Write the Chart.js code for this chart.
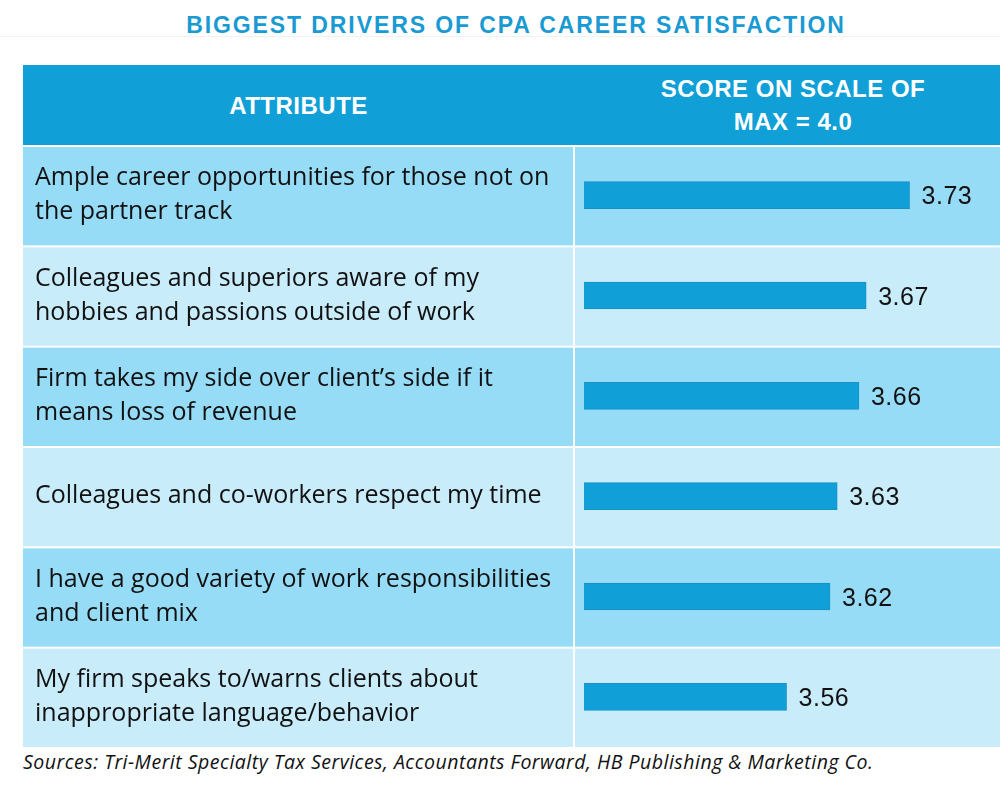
<!DOCTYPE html>
<html>
<head>
<meta charset="utf-8">
<script src="https://cdn.jsdelivr.net/npm/chart.js@4"></script>
<style>
  html, body { margin: 0; padding: 0; background: #fff; }
  body { width: 1000px; height: 792px; position: relative; overflow: hidden; }
  .title {
    position: absolute; top: 12px; left: 32px; width: 968px;
    text-align: center; color: #1a9ad2;
    font: bold 23px "Liberation Sans", Arial, sans-serif; letter-spacing: 1.9px;
  }
  .rule { position: absolute; top: 36px; left: 0; width: 1000px; height: 1px; background: #f2f2f2; }
  .header {
    position: absolute; top: 65px; left: 23px; width: 989px; height: 80px;
    background: #109fd6; color: #fff;
    font: bold 24px "Liberation Sans", Arial, sans-serif; letter-spacing: 0.5px;
  }
  .header div { position: absolute; top: 0; height: 80px; display: flex; align-items: center; justify-content: center; text-align: center; line-height: 33px; }
  .h1 { left: 0; width: 551px; }
  .h2 { left: 551px; width: 438px; }
  #wrap { position: absolute; top: 145px; left: 23px; line-height: 0; }
  .source {
    position: absolute; top: 748px; left: 23px;
    font: italic 19.5px "Open Sans", sans-serif; letter-spacing: 0.5px; color: #111;
  }
</style>
</head>
<body>
<div class="title">BIGGEST DRIVERS OF CPA CAREER SATISFACTION</div>
<div class="rule"></div>
<div class="header">
  <div class="h1">ATTRIBUTE</div>
  <div class="h2">SCORE ON SCALE OF<br>MAX = 4.0</div>
</div>
<div id="wrap"><canvas id="chart" width="977" height="602"></canvas></div>
<div class="source">Sources: Tri-Merit Specialty Tax Services, Accountants Forward, HB Publishing &amp; Marketing Co.</div>

<script>
// attribute text, one array per row (line breaks as in the original table)
const attributes = [
  ['Ample career opportunities for those not on', 'the partner track'],
  ['Colleagues and superiors aware of my', 'hobbies and passions outside of work'],
  ['Firm takes my side over client\u2019s side if it', 'means loss of revenue'],
  ['Colleagues and co-workers respect my time'],
  ['I have a good variety of work responsibilities', 'and client mix'],
  ['My firm speaks to/warns clients about', 'inappropriate language/behavior']
];
const scores = [3.73, 3.67, 3.66, 3.63, 3.62, 3.56];

const rowColors = ['#97dcf7', '#c9ecfb'];

// alternating row fills + white grid lines
const tableBackground = {
  id: 'tableBackground',
  beforeDraw(chart) {
    const { ctx, width, height, scales: { y } } = chart;
    const n = chart.data.labels.length;
    const h = y.height / n;
    ctx.save();
    ctx.fillStyle = '#fff';
    ctx.fillRect(0, 0, width, height);
    for (let i = 0; i < n; i++) {
      const mid = y.getPixelForValue(i);
      ctx.fillStyle = rowColors[i % 2];
      ctx.fillRect(0, mid - h / 2 + 2, width, h - 2);
    }
    ctx.fillStyle = '#fff';
    ctx.fillRect(550, 0, 2, height);
    ctx.restore();
  }
};

// score printed at the end of each bar
const valueLabels = {
  id: 'valueLabels',
  afterDatasetsDraw(chart) {
    const { ctx } = chart;
    const meta = chart.getDatasetMeta(0);
    ctx.save();
    ctx.font = '25px "Liberation Sans", Arial, sans-serif';
    ctx.letterSpacing = '0.5px';
    ctx.fillStyle = '#111';
    ctx.textBaseline = 'alphabetic';
    meta.data.forEach((bar, i) => {
      ctx.fillText(scores[i].toFixed(2), bar.x + 12, bar.y + 9);
    });
    ctx.restore();
  }
};

new Chart(document.getElementById('chart'), {
  type: 'bar',
  data: {
    labels: attributes,
    datasets: [{
      data: scores,
      backgroundColor: '#109fd6',
      borderColor: '#1791c6',
      borderWidth: 1,
      barThickness: 27
    }]
  },
  options: {
    indexAxis: 'y',
    responsive: false,
    animation: false,
    layout: { padding: { left: 12, right: 0, top: 0, bottom: 0 } },
    plugins: { legend: { display: false }, tooltip: { enabled: false } },
    scales: {
      x: { display: false, beginAtZero: false, min: 3.28, max: 3.855 },
      y: {
        grid: { display: false },
        border: { display: false },
        afterFit(scale) {
          scale.width = 549;
          // rows fill the full height, labels sit inside them
          scale.paddingTop = 0;
          scale.paddingBottom = 0;
        },
        ticks: {
          crossAlign: 'far',
          autoSkip: false,
          color: '#111',
          font: { family: '"Open Sans", sans-serif', size: 25, lineHeight: 1.36 }
        }
      }
    }
  },
  plugins: [tableBackground, valueLabels]
});
</script>
</body>
</html>
